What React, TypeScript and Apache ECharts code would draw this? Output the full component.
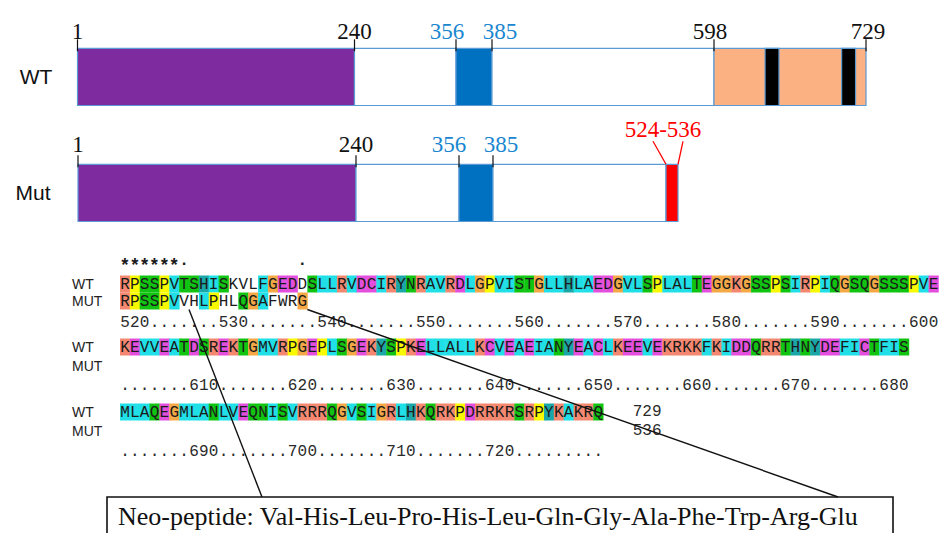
import React, { useEffect, useRef } from 'react';
import * as echarts from 'echarts';

// ---------------- data ----------------
const PROTEINS = ['WT', 'Mut'];
const WT_DOMAINS: [number, number, string][] = [
  [1, 240, 'uch'], [240, 356, 'linker'], [356, 385, 'hbm'], [385, 598, 'linker'], [598, 729, 'ctd'],
];
const WT_MOTIFS: [number, number][] = [[642, 654], [708, 720]];
const MUT_DOMAINS: [number, number, string][] = [
  [1, 240, 'uch'], [240, 356, 'linker'], [356, 385, 'hbm'], [385, 524, 'linker'], [524, 536, 'neo'],
];
const WT_TICKS = [1, 240, 356, 385, 598, 729];
const MUT_TICKS = [1, 240, 356, 385];
const NEO_RANGE: [number, number] = [524, 536];

const CONSERVATION = '******.           .';
const WT_LINES = [
  'RPSSPVTSHISKVLFGEDDSLLRVDCIRYNRAVRDLGPVISTGLLHLAEDGVLSPLALTEGGKGSSPSIRPIQGSQGSSSPVE',
  'KEVVEATDSREKTGMVRPGEPLSGEKYSPKELLALLKCVEAEIANYEACLKEEVEKRKKFKIDDQRRTHNYDEFICTFIS',
  'MLAQEGMLANLVEQNISVRRRQGVSIGRLHKQRKPDRRKRSRPYKAKRQ',
];
const MUT_LINES = ['RPSSPVVHLPHLQGAFWRG', '', ''];
const WT_UNSHADED_FIRST_LINE = [11, 12, 13, 18];
const MUT_SHADED_FIRST_LINE = [0, 1, 2, 3, 4, 5, 8, 9, 12, 13, 14, 18];
const NUMBER_LINES = [
  '520.......530.......540.......550.......560.......570.......580.......590.......600',
  '.......610.......620.......630.......640.......650.......660.......670.......680',
  '.......690.......700.......710.......720.........',
];
const WT_LAST = 729;
const MUT_LAST = 536;
const NEO_PEPTIDE = ['Val', 'His', 'Leu', 'Pro', 'His', 'Leu', 'Gln', 'Gly', 'Ala', 'Phe', 'Trp', 'Arg', 'Glu'];

// ---------------- styles / layout ----------------
const DOMAIN_COLORS: Record<string, string> = {
  uch: '#7E2B9F', linker: '#FFFFFF', hbm: '#0070C0', ctd: '#FBB181', neo: '#FF0000', motif: '#000000',
};
const BAR_BORDER = '#5B9BD5';
const RES_COLORS: Record<string, string> = {
  K: '#F4876F', R: '#F4876F',
  P: '#F9F900',
  S: '#12C412', T: '#12C412', N: '#12C412', Q: '#12C412',
  A: '#21DFE6', V: '#21DFE6', I: '#21DFE6', L: '#21DFE6', M: '#21DFE6', F: '#21DFE6', W: '#21DFE6',
  H: '#1BA6A8', Y: '#1BA6A8',
  G: '#F4A946',
  D: '#E34FDC', E: '#E34FDC', C: '#E34FDC',
};
// schematic (not-to-scale) anchors: residue -> axis units
const WT_ANCHORS: [number[], number[]] = [[1, 240, 356, 385, 598, 729], [0, 277, 378.5, 414.5, 636.5, 788.5]];
const MUT_ANCHORS: [number[], number[]] = [[1, 240, 356, 385, 524, 536], [0.5, 278.5, 381.5, 415.5, 588.5, 600.5]];
const BAR_TOP = [48.3, 164.3];
const BAR_H = 57.2;
const TICK_LABEL_GAP = [17, 20];
const LABEL_DX: Record<number, number> = { 356: -9, 385: 8, 598: -4, 729: 2 };
const CW = 9.86;
const ALIGN_LEFT = 120;
const ALIGN_COLS = 83;
const LINE_Y = { cons: 263, wt: [284, 347, 412], mut: [301, 366, 431], num: [323, 386, 452] };
const CELL_H = 17;
const END_LABEL_COL = 52;
const BOX = { x: 107, y: 497, w: 786, h: 52 };
const CONNECTOR_ENDS = [[262, 497], [838, 497]];

const SERIF = '"Liberation Serif", "Times New Roman", serif';
const MONO = '"Liberation Mono", "DejaVu Sans Mono", monospace';
const SANS = '"Liberation Sans", Arial, sans-serif';

function mapRes(res: number, anchors: [number[], number[]]) {
  const [rs, ps] = anchors;
  for (let i = 0; i < rs.length - 1; i++) {
    if (res <= rs[i + 1] || i === rs.length - 2) {
      const t = (res - rs[i]) / (rs[i + 1] - rs[i]);
      return ps[i] + t * (ps[i + 1] - ps[i]);
    }
  }
  return ps[ps.length - 1];
}

function txt(text: string, x: number, y: number, font: string, fill: string, align = 'center', vAlign = 'middle') {
  return {
    type: 'text',
    x, y,
    style: { text, font, fill, align, verticalAlign: vAlign, textAlign: align, textVerticalAlign: vAlign },
  };
}

// alignment items
type Item = { kind: string; col: number; y: number; ch?: string; shaded?: boolean; end?: number[] };
const alignItems: Item[] = [];
CONSERVATION.split('').forEach((ch, col) => {
  if (ch !== ' ') alignItems.push({ kind: 'cons', col, y: LINE_Y.cons, ch });
});
WT_LINES.forEach((line, b) =>
  line.split('').forEach((ch, col) => {
    const shaded = !(b === 0 && WT_UNSHADED_FIRST_LINE.includes(col));
    alignItems.push({ kind: 'res', col, y: LINE_Y.wt[b], ch, shaded });
  })
);
MUT_LINES.forEach((line, b) =>
  line.split('').forEach((ch, col) => {
    const shaded = b === 0 && MUT_SHADED_FIRST_LINE.includes(col);
    alignItems.push({ kind: 'res', col, y: LINE_Y.mut[b], ch, shaded });
  })
);
NUMBER_LINES.forEach((line, b) =>
  line.split('').forEach((ch, col) => {
    alignItems.push({ kind: 'num', col, y: LINE_Y.num[b], ch });
  })
);
alignItems.push({ kind: 'end', col: END_LABEL_COL, y: LINE_Y.wt[2], ch: String(WT_LAST) });
alignItems.push({ kind: 'end', col: END_LABEL_COL, y: LINE_Y.mut[2], ch: String(MUT_LAST) });
let neoFirst = 0;
while (neoFirst < MUT_LINES[0].length && MUT_LINES[0][neoFirst] === WT_LINES[0][neoFirst]) neoFirst++;
const neoLast = MUT_LINES[0].length - 1;
alignItems.push({ kind: 'conn', col: neoFirst + 1, y: LINE_Y.mut[0] + CELL_H / 2, end: CONNECTOR_ENDS[0] });
alignItems.push({ kind: 'conn', col: neoLast + 1, y: LINE_Y.mut[0] + CELL_H / 2, end: CONNECTOR_ENDS[1] });

function renderDomain(params: any, api: any) {
  const r = params.dataIndex;
  const isWT = r === 0;
  const anchors = isWT ? WT_ANCHORS : MUT_ANCHORS;
  const top = BAR_TOP[r];
  const px = (res: number) => api.coord([mapRes(res, anchors), top])[0];
  const yTop = api.coord([0, top])[1];
  const yBot = api.coord([0, top + BAR_H])[1];
  const children: any[] = [];
  const domains = isWT ? WT_DOMAINS : MUT_DOMAINS;
  domains.forEach(([s, e, kind]) => {
    children.push({
      type: 'rect',
      shape: { x: px(s), y: yTop, width: px(e) - px(s), height: yBot - yTop },
      style: { fill: DOMAIN_COLORS[kind], stroke: BAR_BORDER, lineWidth: 1.2 },
    });
  });
  if (isWT) {
    WT_MOTIFS.forEach(([s, e]) => {
      children.push({
        type: 'rect',
        shape: { x: px(s), y: yTop, width: px(e) - px(s), height: yBot - yTop },
        style: { fill: DOMAIN_COLORS.motif, stroke: BAR_BORDER, lineWidth: 1.2 },
      });
    });
  }
  const ticks = isWT ? WT_TICKS : MUT_TICKS;
  ticks.forEach((t) => {
    const x = px(t);
    children.push({
      type: 'line',
      shape: { x1: x, y1: yTop - 9, x2: x, y2: yTop + 3 },
      style: { stroke: '#111', lineWidth: 1.2 },
    });
    const blue = t === 356 || t === 385;
    const dx = (LABEL_DX[t] || 0) + (!isWT && t === 356 ? -1 : 0);
    children.push(txt(String(t), x + dx, yTop - TICK_LABEL_GAP[r], '23px ' + SERIF, blue ? '#1A86D0' : '#111'));
  });
  if (!isWT) {
    const a = px(NEO_RANGE[0]);
    const b = px(NEO_RANGE[1]);
    const cx = (a + b) / 2 - 9;
    children.push(txt(`${NEO_RANGE[0]}-${NEO_RANGE[1]}`, cx, yTop - 35, '23px ' + SERIF, '#FF0000'));
    children.push({ type: 'line', shape: { x1: cx - 10, y1: yTop - 23, x2: a, y2: yTop }, style: { stroke: '#FF0000', lineWidth: 1.3 } });
    children.push({ type: 'line', shape: { x1: cx + 20, y1: yTop - 23, x2: b, y2: yTop }, style: { stroke: '#FF0000', lineWidth: 1.3 } });
  }
  return { type: 'group', children };
}

function renderAlign(params: any, api: any) {
  const it = alignItems[params.dataIndex];
  const [x0, yc] = api.coord([it.col, it.y]);
  const x1 = api.coord([it.col + 1, it.y])[0];
  const cx = (x0 + x1) / 2;
  if (it.kind === 'res') {
    const children: any[] = [];
    if (it.shaded) {
      children.push({
        type: 'rect',
        shape: { x: x0, y: yc - CELL_H / 2, width: x1 - x0 + 0.4, height: CELL_H },
        style: { fill: RES_COLORS[it.ch as string] || '#fff' },
      });
    }
    children.push(txt(it.ch as string, cx, yc + 0.5, '16px ' + MONO, '#1a1a1a'));
    return { type: 'group', children };
  }
  if (it.kind === 'cons') {
    const star = it.ch === '*';
    return txt(it.ch as string, cx, yc + (star ? 3 : -2), (star ? 'bold 18px ' : 'bold 16px ') + MONO, '#1a1a1a');
  }
  if (it.kind === 'num') return txt(it.ch as string, cx, yc, '16px ' + MONO, '#2a2a2a');
  if (it.kind === 'end') return txt(it.ch as string, x0, yc, '16px ' + MONO, '#2a2a2a', 'left');
  if (it.kind === 'conn') {
    const end = it.end as number[];
    return { type: 'line', shape: { x1: x0, y1: yc, x2: end[0], y2: end[1] }, style: { stroke: '#111', lineWidth: 1.4 } };
  }
  return null;
}

export default function App() {
  const ref = useRef<HTMLDivElement>(null);
  useEffect(() => {
    const chart = echarts.init(ref.current as HTMLDivElement, null, { renderer: 'svg' });
    const rowLabels: any[] = [];
    LINE_Y.wt.forEach((y) => rowLabels.push(txt('WT', 72, y, '14px ' + SANS, '#222', 'left')));
    LINE_Y.mut.forEach((y) => rowLabels.push(txt('MUT', 72, y, '14px ' + SANS, '#222', 'left')));
    chart.setOption({
      animation: false,
      backgroundColor: '#ffffff',
      grid: [
        { left: 77.5, top: 0, width: 788.5, height: 533 },
        { left: ALIGN_LEFT, top: 0, width: ALIGN_COLS * CW, height: 533 },
      ],
      xAxis: [
        { type: 'value', gridIndex: 0, min: 0, max: 788.5, show: false },
        { type: 'value', gridIndex: 1, min: 0, max: ALIGN_COLS, show: false },
      ],
      yAxis: [
        { type: 'value', gridIndex: 0, min: 0, max: 533, inverse: true, show: false },
        { type: 'value', gridIndex: 1, min: 0, max: 533, inverse: true, show: false },
      ],
      graphic: [
        txt(PROTEINS[0], 36, 76, '21px ' + SANS, '#111'),
        txt(PROTEINS[1], 33, 192, '21px ' + SANS, '#111'),
        ...rowLabels,
        {
          type: 'rect',
          shape: { x: BOX.x, y: BOX.y, width: BOX.w, height: BOX.h },
          style: { fill: 'none', stroke: '#111', lineWidth: 1.6 },
        },
        txt('Neo-peptide: ' + NEO_PEPTIDE.join('-'), 118, 516, '26px ' + SERIF, '#111', 'left'),
      ],
      series: [
        {
          type: 'custom',
          xAxisIndex: 0,
          yAxisIndex: 0,
          data: PROTEINS.map((_, i) => [0, i]),
          renderItem: renderDomain,
          silent: true,
        },
        {
          type: 'custom',
          xAxisIndex: 1,
          yAxisIndex: 1,
          data: alignItems.map((it) => [it.col, it.y]),
          renderItem: renderAlign,
          silent: true,
        },
      ],
    });
    return () => chart.dispose();
  }, []);
  return <div ref={ref} style={{ position: 'absolute', left: 0, top: 0, width: 939, height: 533 }} />;
}
